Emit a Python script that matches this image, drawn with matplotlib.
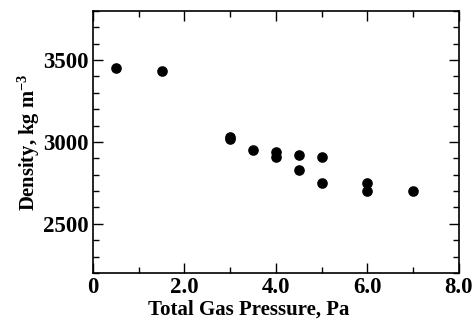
import matplotlib
matplotlib.use("Agg")
import matplotlib.pyplot as plt
from matplotlib.ticker import MultipleLocator, FixedFormatter, FixedLocator

plt.rcParams['font.family'] = ['Liberation Serif', 'DejaVu Serif']
plt.rcParams['font.weight'] = 'bold'
plt.rcParams['mathtext.fontset'] = 'custom'
plt.rcParams['mathtext.rm'] = 'Liberation Serif:bold'
plt.rcParams['mathtext.bf'] = 'Liberation Serif:bold'
plt.rcParams['mathtext.default'] = 'bf'

# data
pressure = [0.5, 1.5, 3.0, 3.0, 3.5, 4.0, 4.0, 4.5, 4.5, 5.0, 5.0, 6.0, 6.0, 7.0]
density = [3450, 3430, 3020, 3030, 2950, 2940, 2910, 2920, 2830, 2910, 2750, 2750, 2700, 2700]
x_ticks = [0, 2, 4, 6, 8]
x_labels = ["0", "2.0", "4.0", "6.0", "8.0"]
y_ticks = [2500, 3000, 3500]

fig = plt.figure(figsize=(4.77, 3.2), dpi=100)
ax = fig.add_axes([0.195, 0.147, 0.767, 0.819])

ax.scatter(pressure, density, s=44, color='black', zorder=3)

ax.set_xlim(0, 8)
ax.set_ylim(2200, 3800)
ax.xaxis.set_major_locator(FixedLocator(x_ticks))
ax.xaxis.set_major_formatter(FixedFormatter(x_labels))
ax.xaxis.set_minor_locator(MultipleLocator(1))
ax.yaxis.set_major_locator(FixedLocator(y_ticks))
ax.yaxis.set_minor_locator(MultipleLocator(100))

ax.tick_params(which='both', direction='in', top=True, right=True, width=1.0,
               labelsize=16.5)
ax.tick_params(axis='y', pad=3)
ax.tick_params(axis='x', pad=3)
ax.tick_params(which='major', length=7)
ax.tick_params(which='minor', length=4)
for lab in ax.get_xticklabels() + ax.get_yticklabels():
    lab.set_fontweight('bold')
for sp in ax.spines.values():
    sp.set_linewidth(1.2)

ax.set_xlabel("Total Gas Pressure, Pa", fontsize=15, fontweight='bold')
ax.xaxis.set_label_coords(0.426, -0.1, transform=ax.transAxes)
ax.set_ylabel("Density, kg m$^{-3}$", fontsize=14.8, fontweight='bold', labelpad=1)

fig.savefig("out.png", dpi=100)
